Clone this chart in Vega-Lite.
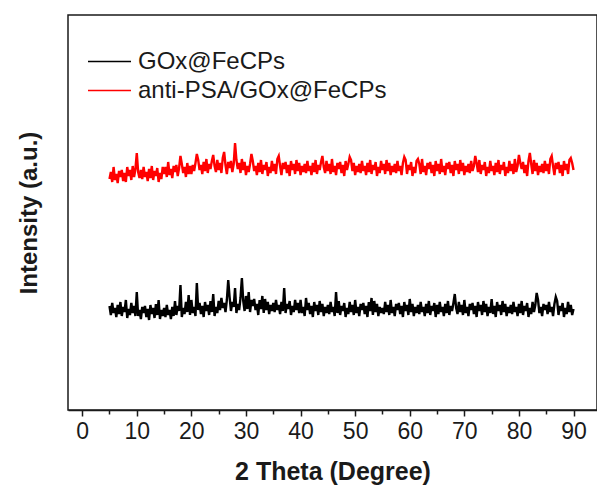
{
"$schema": "https://vega.github.io/schema/vega-lite/v6.json",
"width": 529, "height": 395,
"autosize": {"type": "none"},
"padding": {"left": 68, "top": 15, "right": 0, "bottom": 80},
"background": "white",
"config": {"view": {"stroke": "#1a1a1a", "strokeWidth": 1.5}, "font": "Liberation Sans"},
"data": {"values": [
{"t":5,"gox":104,"anti":231},{"t":5.25,"gox":95,"anti":238},{"t":5.5,"gox":107,"anti":228},{"t":5.75,"gox":97,"anti":243},
{"t":6,"gox":102,"anti":230},{"t":6.25,"gox":93,"anti":236},{"t":6.5,"gox":105,"anti":227},{"t":6.75,"gox":96,"anti":239},
{"t":7,"gox":108,"anti":233},{"t":7.25,"gox":94,"anti":240},{"t":7.5,"gox":103,"anti":229},{"t":7.75,"gox":98,"anti":237},
{"t":8,"gox":110,"anti":228},{"t":8.25,"gox":92,"anti":243},{"t":8.5,"gox":101,"anti":234},{"t":8.75,"gox":95,"anti":240},
{"t":9,"gox":107,"anti":230},{"t":9.25,"gox":97,"anti":244},{"t":9.5,"gox":104,"anti":233},{"t":9.75,"gox":94,"anti":241},
{"t":10,"gox":118,"anti":257},{"t":10.25,"gox":94,"anti":238},{"t":10.5,"gox":100,"anti":232},{"t":10.75,"gox":91,"anti":240},
{"t":11,"gox":103,"anti":231},{"t":11.25,"gox":97,"anti":243},{"t":11.5,"gox":104,"anti":233},{"t":11.75,"gox":93,"anti":238},
{"t":12,"gox":101,"anti":229},{"t":12.25,"gox":90,"anti":241},{"t":12.5,"gox":105,"anti":232},{"t":12.75,"gox":96,"anti":244},
{"t":13,"gox":102,"anti":230},{"t":13.25,"gox":92,"anti":239},{"t":13.5,"gox":106,"anti":234},{"t":13.75,"gox":95,"anti":242},
{"t":14,"gox":110,"anti":228},{"t":14.25,"gox":91,"anti":237},{"t":14.5,"gox":100,"anti":231},{"t":14.75,"gox":94,"anti":243},
{"t":15,"gox":102,"anti":236},{"t":15.25,"gox":93,"anti":243},{"t":15.5,"gox":105,"anti":233},{"t":15.75,"gox":95,"anti":248},
{"t":16,"gox":100,"anti":235},{"t":16.25,"gox":91,"anti":241},{"t":16.5,"gox":103,"anti":232},{"t":16.75,"gox":94,"anti":244},
{"t":17,"gox":109,"anti":238},{"t":17.25,"gox":95,"anti":245},{"t":17.5,"gox":104,"anti":234},{"t":17.75,"gox":99,"anti":242},
{"t":18,"gox":125,"anti":254},{"t":18.25,"gox":93,"anti":246},{"t":18.5,"gox":102,"anti":237},{"t":18.75,"gox":96,"anti":243},
{"t":19,"gox":108,"anti":233},{"t":19.25,"gox":98,"anti":247},{"t":19.5,"gox":115,"anti":236},{"t":19.75,"gox":95,"anti":244},
{"t":20,"gox":110,"anti":236},{"t":20.25,"gox":97,"anti":245},{"t":20.5,"gox":103,"anti":239},{"t":20.75,"gox":94,"anti":247},
{"t":21,"gox":127,"anti":256},{"t":21.25,"gox":100,"anti":250},{"t":21.5,"gox":107,"anti":240},{"t":21.75,"gox":96,"anti":245},
{"t":22,"gox":104,"anti":236},{"t":22.25,"gox":93,"anti":248},{"t":22.5,"gox":108,"anti":239},{"t":22.75,"gox":99,"anti":251},
{"t":23,"gox":105,"anti":237},{"t":23.25,"gox":95,"anti":246},{"t":23.5,"gox":109,"anti":241},{"t":23.75,"gox":98,"anti":249},
{"t":24,"gox":116,"anti":255},{"t":24.25,"gox":94,"anti":244},{"t":24.5,"gox":103,"anti":238},{"t":24.75,"gox":97,"anti":250},
{"t":25,"gox":109,"anti":240},{"t":25.25,"gox":100,"anti":247},{"t":25.5,"gox":112,"anti":237},{"t":25.75,"gox":102,"anti":252},
{"t":26,"gox":107,"anti":258},{"t":26.25,"gox":98,"anti":245},{"t":26.5,"gox":110,"anti":236},{"t":26.75,"gox":130,"anti":248},
{"t":27,"gox":113,"anti":242},{"t":27.25,"gox":99,"anti":249},{"t":27.5,"gox":108,"anti":238},{"t":27.75,"gox":103,"anti":246},
{"t":28,"gox":122,"anti":267},{"t":28.25,"gox":97,"anti":250},{"t":28.5,"gox":106,"anti":241},{"t":28.75,"gox":100,"anti":247},
{"t":29,"gox":112,"anti":237},{"t":29.25,"gox":132,"anti":251},{"t":29.5,"gox":109,"anti":240},{"t":29.75,"gox":99,"anti":248},
{"t":30,"gox":114,"anti":235},{"t":30.25,"gox":101,"anti":244},{"t":30.5,"gox":118,"anti":238},{"t":30.75,"gox":98,"anti":246},
{"t":31,"gox":110,"anti":256},{"t":31.25,"gox":104,"anti":249},{"t":31.5,"gox":111,"anti":239},{"t":31.75,"gox":100,"anti":244},
{"t":32,"gox":106,"anti":235},{"t":32.25,"gox":95,"anti":247},{"t":32.5,"gox":110,"anti":238},{"t":32.75,"gox":101,"anti":250},
{"t":33,"gox":114,"anti":236},{"t":33.25,"gox":97,"anti":245},{"t":33.5,"gox":111,"anti":240},{"t":33.75,"gox":100,"anti":248},
{"t":34,"gox":108,"anti":234},{"t":34.25,"gox":96,"anti":243},{"t":34.5,"gox":105,"anti":237},{"t":34.75,"gox":99,"anti":249},
{"t":35,"gox":107,"anti":239},{"t":35.25,"gox":98,"anti":246},{"t":35.5,"gox":110,"anti":236},{"t":35.75,"gox":100,"anti":251},
{"t":36,"gox":105,"anti":254},{"t":36.25,"gox":96,"anti":244},{"t":36.5,"gox":108,"anti":235},{"t":36.75,"gox":99,"anti":247},
{"t":37,"gox":122,"anti":241},{"t":37.25,"gox":97,"anti":248},{"t":37.5,"gox":106,"anti":237},{"t":37.75,"gox":101,"anti":245},
{"t":38,"gox":109,"anti":234},{"t":38.25,"gox":95,"anti":249},{"t":38.5,"gox":104,"anti":240},{"t":38.75,"gox":98,"anti":246},
{"t":39,"gox":110,"anti":236},{"t":39.25,"gox":100,"anti":250},{"t":39.5,"gox":107,"anti":239},{"t":39.75,"gox":97,"anti":247},
{"t":40,"gox":110,"anti":235},{"t":40.25,"gox":97,"anti":244},{"t":40.5,"gox":103,"anti":238},{"t":40.75,"gox":94,"anti":246},
{"t":41,"gox":112,"anti":237},{"t":41.25,"gox":100,"anti":249},{"t":41.5,"gox":107,"anti":239},{"t":41.75,"gox":96,"anti":244},
{"t":42,"gox":104,"anti":235},{"t":42.25,"gox":93,"anti":247},{"t":42.5,"gox":108,"anti":238},{"t":42.75,"gox":99,"anti":250},
{"t":43,"gox":105,"anti":236},{"t":43.25,"gox":95,"anti":245},{"t":43.5,"gox":109,"anti":240},{"t":43.75,"gox":98,"anti":248},
{"t":44,"gox":106,"anti":254},{"t":44.25,"gox":94,"anti":243},{"t":44.5,"gox":103,"anti":237},{"t":44.75,"gox":97,"anti":249},
{"t":45,"gox":105,"anti":239},{"t":45.25,"gox":96,"anti":246},{"t":45.5,"gox":108,"anti":236},{"t":45.75,"gox":98,"anti":251},
{"t":46,"gox":103,"anti":238},{"t":46.25,"gox":94,"anti":244},{"t":46.5,"gox":118,"anti":235},{"t":46.75,"gox":97,"anti":247},
{"t":47,"gox":109,"anti":241},{"t":47.25,"gox":95,"anti":248},{"t":47.5,"gox":104,"anti":237},{"t":47.75,"gox":99,"anti":245},
{"t":48,"gox":107,"anti":234},{"t":48.25,"gox":93,"anti":249},{"t":48.5,"gox":102,"anti":240},{"t":48.75,"gox":96,"anti":246},
{"t":49,"gox":108,"anti":253},{"t":49.25,"gox":98,"anti":250},{"t":49.5,"gox":105,"anti":239},{"t":49.75,"gox":95,"anti":247},
{"t":50,"gox":110,"anti":235},{"t":50.25,"gox":97,"anti":244},{"t":50.5,"gox":103,"anti":238},{"t":50.75,"gox":94,"anti":246},
{"t":51,"gox":106,"anti":237},{"t":51.25,"gox":100,"anti":249},{"t":51.5,"gox":107,"anti":239},{"t":51.75,"gox":96,"anti":244},
{"t":52,"gox":104,"anti":235},{"t":52.25,"gox":93,"anti":247},{"t":52.5,"gox":108,"anti":238},{"t":52.75,"gox":99,"anti":250},
{"t":53,"gox":112,"anti":236},{"t":53.25,"gox":95,"anti":245},{"t":53.5,"gox":109,"anti":240},{"t":53.75,"gox":98,"anti":248},
{"t":54,"gox":106,"anti":234},{"t":54.25,"gox":94,"anti":243},{"t":54.5,"gox":103,"anti":237},{"t":54.75,"gox":97,"anti":249},
{"t":55,"gox":102,"anti":240},{"t":55.25,"gox":96,"anti":246},{"t":55.5,"gox":108,"anti":236},{"t":55.75,"gox":98,"anti":250},
{"t":56,"gox":105,"anti":239},{"t":56.25,"gox":95,"anti":247},{"t":56.5,"gox":110,"anti":235},{"t":56.75,"gox":97,"anti":244},
{"t":57,"gox":103,"anti":238},{"t":57.25,"gox":94,"anti":246},{"t":57.5,"gox":106,"anti":237},{"t":57.75,"gox":100,"anti":249},
{"t":58,"gox":107,"anti":239},{"t":58.25,"gox":96,"anti":244},{"t":58.5,"gox":104,"anti":235},{"t":58.75,"gox":93,"anti":247},
{"t":59,"gox":108,"anti":253},{"t":59.25,"gox":99,"anti":250},{"t":59.5,"gox":105,"anti":236},{"t":59.75,"gox":95,"anti":245},
{"t":60,"gox":111,"anti":240},{"t":60.25,"gox":98,"anti":248},{"t":60.5,"gox":106,"anti":234},{"t":60.75,"gox":94,"anti":243},
{"t":61,"gox":103,"anti":237},{"t":61.25,"gox":97,"anti":249},{"t":61.5,"gox":105,"anti":251},{"t":61.75,"gox":96,"anti":246},
{"t":62,"gox":108,"anti":236},{"t":62.25,"gox":98,"anti":251},{"t":62.5,"gox":103,"anti":238},{"t":62.75,"gox":94,"anti":244},
{"t":63,"gox":106,"anti":235},{"t":63.25,"gox":97,"anti":247},{"t":63.5,"gox":109,"anti":241},{"t":63.75,"gox":95,"anti":248},
{"t":64,"gox":104,"anti":237},{"t":64.25,"gox":99,"anti":245},{"t":64.5,"gox":107,"anti":234},{"t":64.75,"gox":93,"anti":249},
{"t":65,"gox":105,"anti":239},{"t":65.25,"gox":96,"anti":246},{"t":65.5,"gox":108,"anti":236},{"t":65.75,"gox":98,"anti":251},
{"t":66,"gox":103,"anti":238},{"t":66.25,"gox":94,"anti":244},{"t":66.5,"gox":106,"anti":235},{"t":66.75,"gox":97,"anti":247},
{"t":67,"gox":109,"anti":241},{"t":67.25,"gox":95,"anti":248},{"t":67.5,"gox":104,"anti":237},{"t":67.75,"gox":99,"anti":245},
{"t":68,"gox":107,"anti":234},{"t":68.25,"gox":116,"anti":249},{"t":68.5,"gox":102,"anti":240},{"t":68.75,"gox":96,"anti":246},
{"t":69,"gox":108,"anti":236},{"t":69.25,"gox":98,"anti":250},{"t":69.5,"gox":105,"anti":239},{"t":69.75,"gox":95,"anti":247},
{"t":70,"gox":110,"anti":235},{"t":70.25,"gox":97,"anti":244},{"t":70.5,"gox":103,"anti":238},{"t":70.75,"gox":94,"anti":246},
{"t":71,"gox":106,"anti":237},{"t":71.25,"gox":100,"anti":249},{"t":71.5,"gox":107,"anti":239},{"t":71.75,"gox":96,"anti":244},
{"t":72,"gox":104,"anti":254},{"t":72.25,"gox":93,"anti":247},{"t":72.5,"gox":108,"anti":238},{"t":72.75,"gox":99,"anti":250},
{"t":73,"gox":105,"anti":236},{"t":73.25,"gox":95,"anti":245},{"t":73.5,"gox":109,"anti":240},{"t":73.75,"gox":98,"anti":248},
{"t":74,"gox":106,"anti":234},{"t":74.25,"gox":94,"anti":243},{"t":74.5,"gox":103,"anti":237},{"t":74.75,"gox":97,"anti":249},
{"t":75,"gox":111,"anti":239},{"t":75.25,"gox":96,"anti":244},{"t":75.5,"gox":104,"anti":235},{"t":75.75,"gox":93,"anti":247},
{"t":76,"gox":108,"anti":238},{"t":76.25,"gox":99,"anti":250},{"t":76.5,"gox":105,"anti":236},{"t":76.75,"gox":95,"anti":245},
{"t":77,"gox":109,"anti":240},{"t":77.25,"gox":98,"anti":248},{"t":77.5,"gox":106,"anti":234},{"t":77.75,"gox":94,"anti":243},
{"t":78,"gox":103,"anti":237},{"t":78.25,"gox":97,"anti":249},{"t":78.5,"gox":105,"anti":239},{"t":78.75,"gox":96,"anti":246},
{"t":79,"gox":108,"anti":236},{"t":79.25,"gox":98,"anti":251},{"t":79.5,"gox":103,"anti":238},{"t":79.75,"gox":94,"anti":244},
{"t":80,"gox":106,"anti":255},{"t":80.25,"gox":97,"anti":247},{"t":80.5,"gox":109,"anti":241},{"t":80.75,"gox":95,"anti":248},
{"t":81,"gox":104,"anti":237},{"t":81.25,"gox":99,"anti":245},{"t":81.5,"gox":107,"anti":234},{"t":81.75,"gox":93,"anti":249},
{"t":82,"gox":102,"anti":257},{"t":82.25,"gox":96,"anti":246},{"t":82.5,"gox":108,"anti":236},{"t":82.75,"gox":98,"anti":250},
{"t":83,"gox":105,"anti":239},{"t":83.25,"gox":117,"anti":247},{"t":83.5,"gox":110,"anti":235},{"t":83.75,"gox":97,"anti":244},
{"t":84,"gox":103,"anti":238},{"t":84.25,"gox":94,"anti":246},{"t":84.5,"gox":106,"anti":237},{"t":84.75,"gox":100,"anti":249},
{"t":85,"gox":105,"anti":239},{"t":85.25,"gox":96,"anti":246},{"t":85.5,"gox":108,"anti":236},{"t":85.75,"gox":98,"anti":251},
{"t":86,"gox":103,"anti":254},{"t":86.25,"gox":94,"anti":244},{"t":86.5,"gox":106,"anti":235},{"t":86.75,"gox":113,"anti":247},
{"t":87,"gox":109,"anti":241},{"t":87.25,"gox":95,"anti":248},{"t":87.5,"gox":104,"anti":237},{"t":87.75,"gox":99,"anti":245},
{"t":88,"gox":107,"anti":234},{"t":88.25,"gox":93,"anti":249},{"t":88.5,"gox":102,"anti":240},{"t":88.75,"gox":96,"anti":246},
{"t":89,"gox":108,"anti":236},{"t":89.25,"gox":98,"anti":250},{"t":89.5,"gox":105,"anti":252},{"t":89.75,"gox":95,"anti":247},
{"t":90,"gox":101,"anti":240}
]},
"transform": [{"fold": ["gox", "anti"], "as": ["series", "intensity"]}],
"mark": {"type": "line", "strokeWidth": 2.4},
"encoding": {
  "x": {"field": "t", "type": "quantitative",
        "scale": {"domain": [-2.6, 94.3], "nice": false, "zero": false},
        "axis": {"title": "2 Theta (Degree)",
                 "values": [0,5,10,15,20,25,30,35,40,45,50,55,60,65,70,75,80,85,90],
                 "labelExpr": "datum.value % 10 === 0 ? datum.label : ''",
                 "grid": false, "labelOverlap": false, "labelBound": false, "labelFlush": false,
                 "domainColor": "#1a1a1a", "domainWidth": 1.5,
                 "tickColor": "#1a1a1a", "tickWidth": 1.5,
                 "tickSize": {"condition": {"test": "datum.value % 10 === 0", "value": 6}, "value": 4},
                 "labelFont": "Liberation Sans", "labelFontSize": 23, "labelColor": "#1a1a1a", "labelPadding": 4,
                 "titleFont": "Liberation Sans", "titleFontSize": 25, "titleFontWeight": "bold", "titleColor": "#1a1a1a", "titlePadding": 16}},
  "y": {"field": "intensity", "type": "quantitative",
        "scale": {"domain": [0, 395], "nice": false, "zero": false},
        "axis": {"title": "Intensity (a.u.)", "labels": false, "ticks": false, "domain": false, "grid": false,
                 "titleFont": "Liberation Sans", "titleFontSize": 24, "titleFontWeight": "bold", "titleColor": "#1a1a1a", "titlePadding": 27}},
  "color": {"field": "series", "type": "nominal",
            "scale": {"domain": ["gox", "anti"], "range": ["#000000", "#ff0000"]},
            "legend": {"title": null, "orient": "none", "legendX": 19, "legendY": 32,
                       "symbolType": "stroke", "symbolSize": 1849, "symbolStrokeWidth": 1.5,
                       "labelFont": "Liberation Sans", "labelFontSize": 24, "labelColor": "#1a1a1a", "labelOffset": 6, "labelLimit": 500,
                       "clipHeight": 29, "rowPadding": 0, "padding": 0,
                       "labelExpr": "datum.value == 'gox' ? 'GOx@FeCPs' : 'anti-PSA/GOx@FeCPs'"}}
}
}
